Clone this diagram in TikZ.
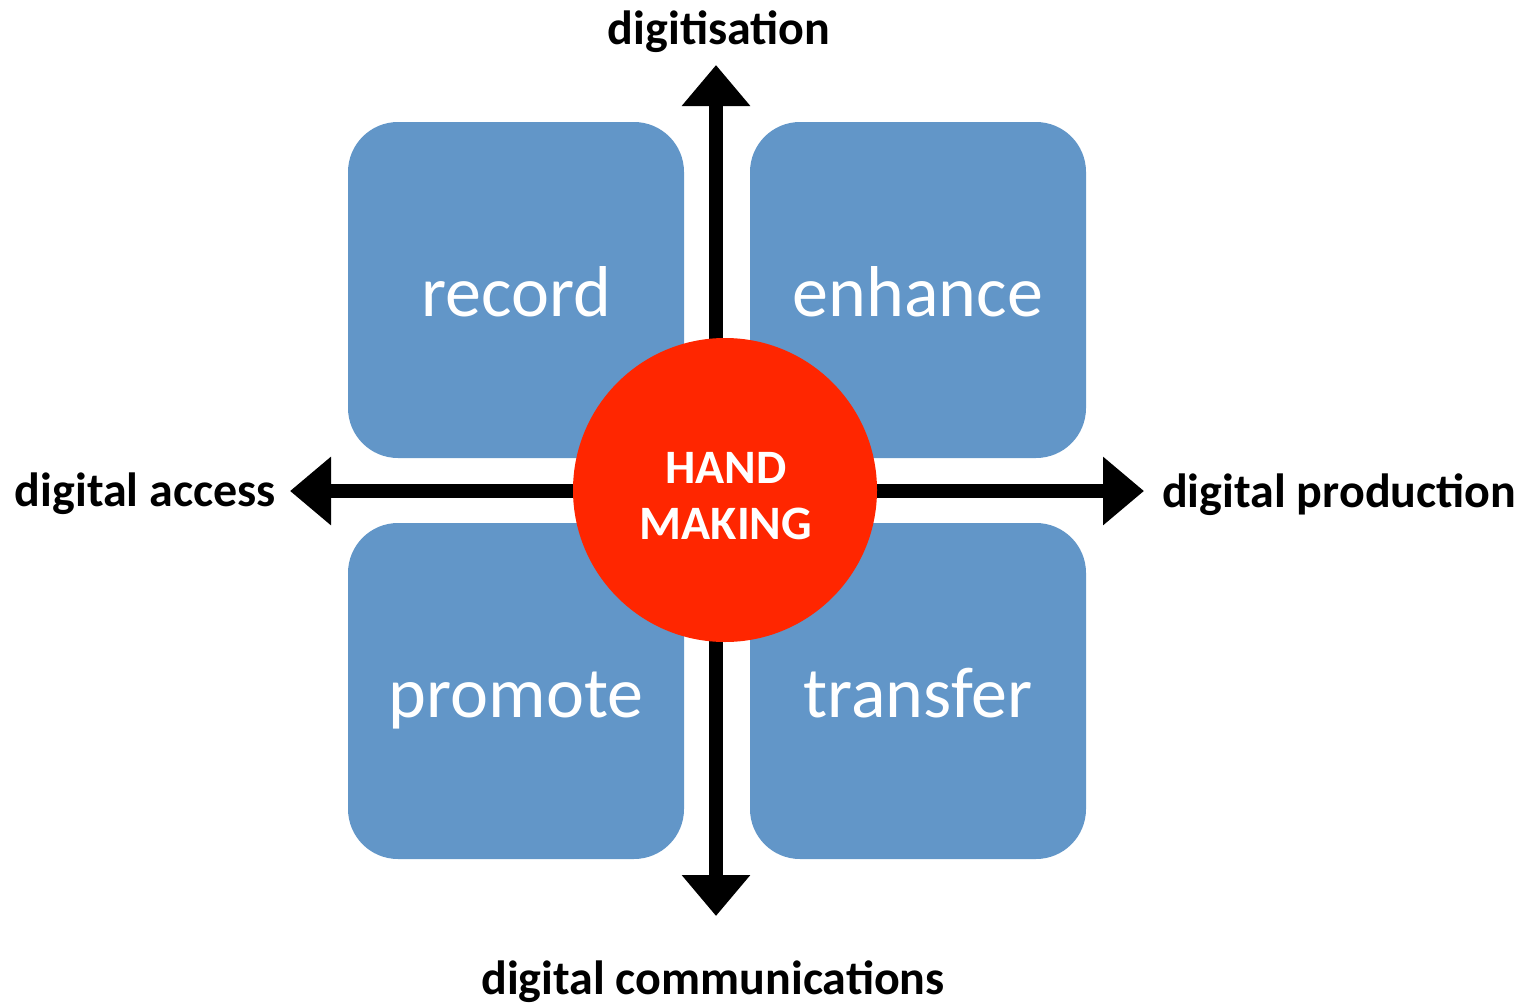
\documentclass[tikz,border=0pt]{standalone}
\usepackage{fontspec}
\setmainfont{Carlito}
\usetikzlibrary{arrows.meta}
\definecolor{boxblue}{HTML}{6296C8}
\definecolor{hmred}{HTML}{FF2600}
\begin{document}
\begin{tikzpicture}[x=1pt,y=-1pt,
  quad/.style={fill=boxblue,rounded corners=50pt,minimum width=336pt,minimum height=336pt,inner sep=0pt,draw=none},
  quadtext/.style={anchor=base,inner sep=0pt,text=white,font=\fontsize{72}{86}\selectfont},
  axislabel/.style={inner sep=0pt,font=\fontsize{48}{57}\selectfont\bfseries},
  axis/.style={line width=14pt,-{Triangle[width=66pt,length=41pt]}},
  hmtext/.style={anchor=base,inner sep=0pt,text=white,font=\fontsize{48}{57}\selectfont\bfseries}
]
\useasboundingbox (0,0) rectangle (1526,1004);
% quadrants
\node[quad] (rec) at (516,290) {};
\node[quad] (enh) at (918,290) {};
\node[quad] (pro) at (516,691) {};
\node[quad] (tra) at (918,691) {};
\node[quadtext] (trec) at (516,316) {record};
\node[quadtext] (tenh) at (918,316) {enhance};
\node[quadtext] (tpro) at (516,717) {promote};
\node[quadtext] (ttra) at (918,717) {transfer};
% axes
\coordinate (vtop) at (716,65);
\coordinate (vbot) at (716,916);
\coordinate (hleft) at (290,491);
\coordinate (hright) at (1144,491);
\coordinate (ctr) at (716,491);
\draw[axis] (ctr) -- (vtop);
\draw[axis] (ctr) -- (vbot);
\draw[axis] (ctr) -- (hleft);
\draw[axis] (ctr) -- (hright);
% centre
\node[circle,fill=hmred,minimum size=304pt,inner sep=0pt] (hm) at (725,490) {};
\node[hmtext] (hand) at (726,483) {HAND};
\node[hmtext] (making) at (726,539) {MAKING};
% labels
\node[axislabel,anchor=base] (ldig) at (719,44) {digitisation};
\node[axislabel,anchor=base east] (lacc) at (276,506) {digital access};
\node[axislabel,anchor=base west] (lprod) at (1162,507) {digital production};
\node[axislabel,anchor=base] (lcom) at (713,994) {digital communications};
\end{tikzpicture}
\end{document}
